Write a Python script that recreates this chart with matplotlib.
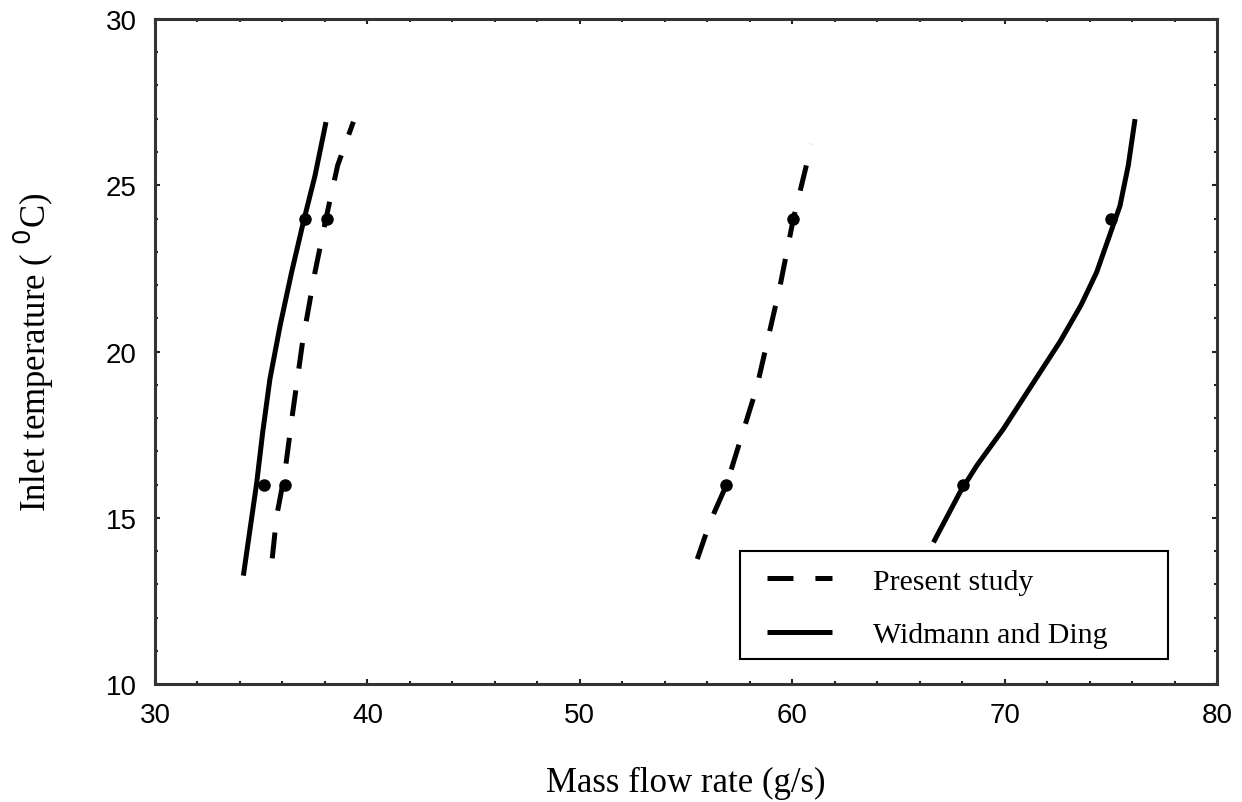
import matplotlib
matplotlib.use('Agg')
import matplotlib.pyplot as plt
from matplotlib.ticker import MultipleLocator
from matplotlib.lines import Line2D
from matplotlib.patches import Rectangle

# curves (mass flow rate g/s, inlet temperature C)
present_low_x = [35.52, 35.73, 36.1, 36.48, 36.95, 37.53, 38.05, 38.6, 39.34]
present_low_y = [13.78, 15.06, 16.3, 18.15, 20.3, 22.38, 24.0, 25.6, 26.91]

present_high_x = [55.53, 56.13, 56.91, 58.33, 59.43, 60.05, 60.91]
present_high_y = [13.76, 14.87, 16.0, 18.92, 21.98, 23.98, 26.24]

widmann_low_x = [34.16, 34.79, 35.07, 35.41, 35.89, 36.43, 36.98, 37.53, 38.05]
widmann_low_y = [13.26, 16.06, 17.57, 19.17, 20.78, 22.38, 23.88, 25.28, 26.9]

widmann_high_x = [66.65, 67.9, 68.69, 69.94, 71.36, 72.61, 73.6, 74.33, 74.88, 75.43, 75.82, 76.14]
widmann_high_y = [14.26, 15.77, 16.57, 17.67, 19.07, 20.3, 21.4, 22.38, 23.38, 24.38, 25.59, 26.99]

# measured points
dots_x = [35.15, 36.1, 37.06, 38.08, 56.9, 60.04, 68.04, 75.0]
dots_y = [16, 16, 24, 24, 16, 24, 16, 24]

labels = ['Present study', 'Widmann and Ding']

plt.rcParams['lines.scale_dashes'] = False

fig = plt.figure(figsize=(12.42, 8.03), dpi=100)
ax = fig.add_axes([0.1248, 0.1469, 0.8551, 0.8282])

dash = (18.7, 15.8)
lw = 3.6
ax.plot(present_low_x, present_low_y, color='black', lw=lw, dashes=dash)
ax.plot(present_high_x, present_high_y, color='black', lw=lw, dashes=dash)
ax.plot(widmann_low_x, widmann_low_y, color='black', lw=lw, solid_capstyle='butt', solid_joinstyle='round')
ax.plot(widmann_high_x, widmann_high_y, color='black', lw=lw, solid_capstyle='butt', solid_joinstyle='round')
ax.plot(dots_x, dots_y, 'o', color='black', markersize=8, linestyle='none')

ax.set_xlim(30, 80)
ax.set_ylim(10, 30)
ax.xaxis.set_major_locator(MultipleLocator(10))
ax.xaxis.set_minor_locator(MultipleLocator(2))
ax.yaxis.set_major_locator(MultipleLocator(5))
ax.yaxis.set_minor_locator(MultipleLocator(1))
ax.tick_params(which='both', direction='in', top=True, right=True, width=1.5, color='#222222')
ax.tick_params(which='major', length=3.5, pad=13, labelsize=20)
ax.tick_params(which='minor', length=2)
for lab in ax.get_xticklabels() + ax.get_yticklabels():
    lab.set_family('Liberation Sans')

for sp in ax.spines.values():
    sp.set_linewidth(2.2)
    sp.set_color('#333333')

ax.set_xlabel('Mass flow rate (g/s)', family='Liberation Serif', fontsize=25, labelpad=27)
ax.set_ylabel('Inlet temperature ( $^{0}$C)', family='Liberation Serif', fontsize=25, labelpad=36)

# legend box drawn separately so the handles can sit further in
ax.add_patch(Rectangle((0.551, 0.038), 0.403, 0.1624, transform=ax.transAxes,
                       facecolor='white', edgecolor='black', lw=1.5, zorder=4))
handles = [Line2D([], [], color='black', lw=lw, dashes=dash),
           Line2D([], [], color='black', lw=lw, solid_capstyle='butt')]
leg = ax.legend(handles, labels, loc='center left', bbox_to_anchor=(0.576, 0.1143),
                prop={'family': 'Liberation Serif', 'size': 21.5}, frameon=False,
                borderpad=0, labelspacing=0.9, handlelength=2.2, handletextpad=1.35,
                borderaxespad=0)
leg.set_zorder(5)

fig.savefig('out.png', dpi=100)
